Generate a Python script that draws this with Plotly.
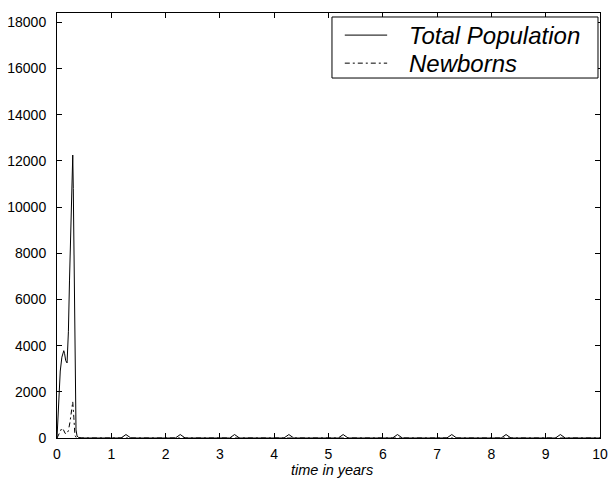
import plotly.graph_objects as go

# Total population (years, count)
pop_t = [0, 0.01, 0.03, 0.06, 0.09, 0.11, 0.125, 0.14, 0.16, 0.185, 0.21, 0.23, 0.25, 0.27, 0.285, 0.29,
         0.30, 0.31, 0.32, 0.335, 0.35, 0.37, 0.40, 0.45,
         1.18, 1.27, 1.36, 2.18, 2.27, 2.36, 3.18, 3.27, 3.36, 4.18, 4.27, 4.36, 5.18, 5.27, 5.36,
         6.18, 6.27, 6.36, 7.18, 7.27, 7.36, 8.18, 8.27, 8.36, 9.18, 9.27, 9.36, 10]
pop_v = [0, 500, 1700, 2900, 3500, 3720, 3780, 3650, 3350, 3250, 4600, 6800, 9000, 11200, 12150, 12250,
         10800, 8200, 5200, 1800, 350, 80, 20, 0,
         0, 150, 0, 0, 150, 0, 0, 150, 0, 0, 150, 0, 0, 150, 0,
         0, 150, 0, 0, 150, 0, 0, 150, 0, 0, 150, 0, 0]

# Newborns
nb_t = [0, 0.03, 0.06, 0.09, 0.12, 0.15, 0.18, 0.21, 0.24, 0.27, 0.29, 0.31, 0.33, 0.36, 10]
nb_v = [0, 150, 350, 430, 350, 200, 180, 320, 700, 1250, 1570, 900, 120, 0, 0]

x_ticks = [0, 1, 2, 3, 4, 5, 6, 7, 8, 9, 10]
y_ticks = [0, 2000, 4000, 6000, 8000, 10000, 12000, 14000, 16000, 18000]
series_names = ["Total Population", "Newborns"]
series_dash = ["solid", "5px,3px,2px,3px"]
x_title = "time in years"

fig = go.Figure()
fig.add_trace(go.Scatter(x=pop_t, y=pop_v, mode="lines", name=series_names[0],
                         line=dict(color="black", width=1, dash=series_dash[0]), showlegend=False))
fig.add_trace(go.Scatter(x=nb_t, y=nb_v, mode="lines", name=series_names[1],
                         line=dict(color="black", width=1, dash=series_dash[1]), showlegend=False))

font_family = "Liberation Sans"
axis_common = dict(showgrid=False, zeroline=False, showline=True, linecolor="black", linewidth=1,
                   mirror="ticks", ticks="inside", ticklen=5, tickcolor="black", tickwidth=1,
                   automargin=False, ticklabeloverflow="allow",
                   tickfont=dict(family=font_family, size=14, color="black"))

# Legend box (drawn in paper coordinates, MATLAB style)
fig.add_shape(type="rect", xref="paper", yref="paper", x0=0.5064, x1=0.9963, y0=0.847, y1=0.9906,
              line=dict(color="black", width=1), fillcolor="white", layer="above")
legend_rows_y = [0.948, 0.882]
for name, dash, yy in zip(series_names, series_dash, legend_rows_y):
    fig.add_shape(type="line", xref="paper", yref="paper", x0=0.530, x1=0.608, y0=yy, y1=yy,
                  line=dict(color="black", width=1, dash=dash), layer="above")
    fig.add_annotation(text=name, xref="paper", yref="paper", x=0.6446, y=yy,
                       xanchor="left", yanchor="middle", showarrow=False,
                       font=dict(family=font_family, size=24, color="black", style="italic"))

# x-axis title placed below the tick labels
fig.add_annotation(text=x_title, xref="paper", yref="paper", x=0.506, y=-0.0745,
                   xanchor="center", yanchor="middle", showarrow=False, borderpad=0,
                   font=dict(family=font_family, size=14.5, color="black", style="italic"))

fig.update_layout(
    width=610, height=478,
    margin=dict(l=57, r=10, t=13, b=40),
    paper_bgcolor="white", plot_bgcolor="white",
    xaxis=dict(range=[0, 10], tickvals=x_ticks, ticktext=[str(v) for v in x_ticks],
               ticklabelstandoff=3, **axis_common),
    yaxis=dict(range=[0, 18400], tickvals=y_ticks, ticktext=[str(v) for v in y_ticks],
               ticklabelstandoff=7, **axis_common),
    showlegend=False,
)

fig.write_html("out.html", config={"displayModeBar": False},
               post_script="document.body.style.margin='0';document.body.style.overflow='hidden';")
